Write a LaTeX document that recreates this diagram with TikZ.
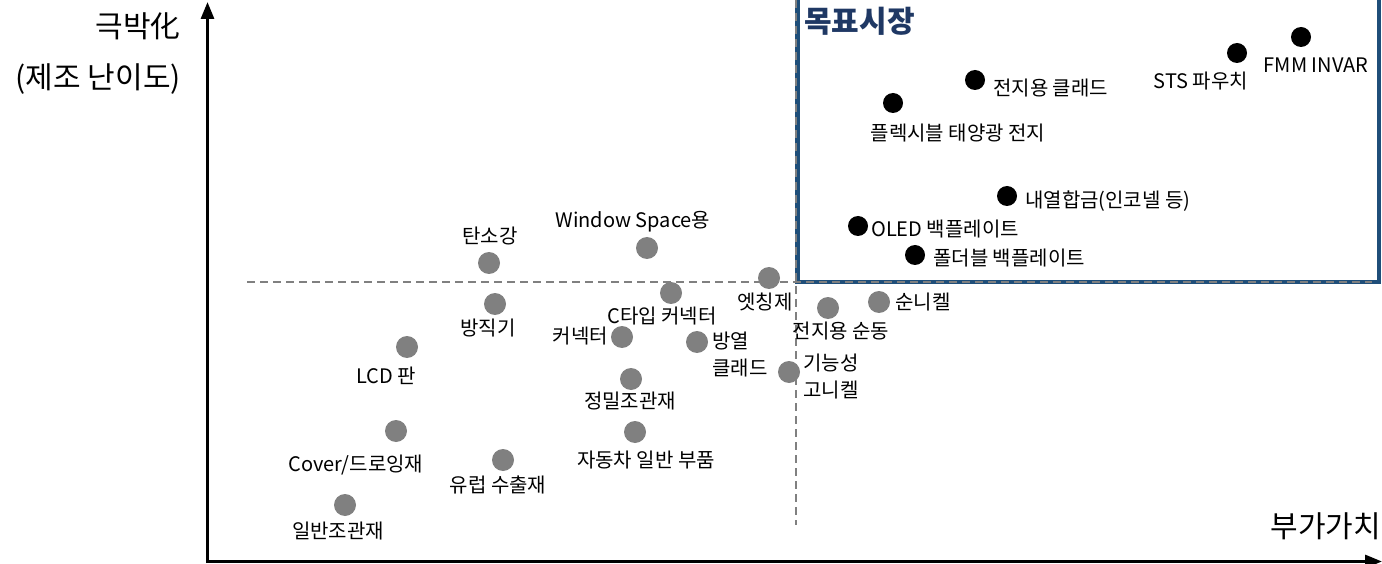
\documentclass[tikz,border=0pt]{standalone}
\usepackage{fontspec}
\setmainfont{Noto Sans CJK KR}
\usetikzlibrary{arrows.meta}
\definecolor{dotgrey}{RGB}{128,128,128}
\definecolor{boxblue}{RGB}{31,78,121}
\definecolor{navy}{RGB}{31,56,100}

\begin{document}
\begin{tikzpicture}[x=1pt, y=-1pt,
            every node/.style={font=\fontsize{20}{27}\selectfont, inner sep=0pt}, % label text
            gdot/.style={circle, fill=dotgrey, minimum size=22pt}, % grey market
            bdot/.style={circle, fill=black, minimum size=20pt}, % target market
            axis/.style={line width=3pt, -{Triangle[length=17pt, width=13pt]}},
            guide/.style={dotgrey, line width=2pt, dash pattern=on 8pt off 5pt},
            axislbl/.style={font=\fontsize{30}{34}\selectfont, anchor=east}
            ]
        \useasboundingbox (0,0) rectangle (1382,564);

        % axes
        \coordinate (o) at (207.5,561.5);
        \coordinate (ytop) at (207.5,2);
        \coordinate (xend) at (1382,561.5);
        \draw[axis] ([yshift=-1.5pt]o) -- (ytop);
        \draw[axis] ([xshift=-1.5pt]o) -- (xend);
        \node[axislbl] (ylbl) at (181,26) {극박化};
        \node[axislbl] (ylbl2) at (181,79) {(제조 난이도)};
        \node[axislbl] (xlbl) at (1381,526) {부가가치};

        % target market box
        \draw[boxblue, line width=4.5pt] (797.5,-10) rectangle (1379,282);
        \node[font=\fontsize{30}{34}\selectfont\bfseries, text=navy, anchor=west] (goal) at (804,21) {목표시장};

        % quadrant guides
        \coordinate (hl) at (247,282);
        \coordinate (hr) at (1372,282);
        \coordinate (vt) at (796,0);
        \coordinate (vb) at (796,525);
        \draw[guide] (hl) -- (hr);
        \draw[guide] (vt) -- (vb);

        % target markets
        \node[bdot] (fmm) at (1301,37) {};
        \node (fmm-l) at (1316,65) {FMM INVAR};
        \node[bdot] (sts) at (1237,53) {};
        \node (sts-l) at (1201,81) {STS 파우치};
        \node[bdot] (clad) at (975,80) {};
        \node[anchor=west] (clad-l) at (993,88) {전지용 클래드};
        \node[bdot] (flex) at (893,103) {};
        \node (flex-l) at (958,133) {플렉시블 태양광 전지};
        \node[bdot] (heat) at (1007,196) {};
        \node[anchor=west] (heat-l) at (1025,201) {내열합금(인코넬 등)};
        \node[bdot] (oled) at (858,226) {};
        \node[anchor=west] (oled-l) at (871,229) {OLED 백플레이트};
        \node[bdot] (fold) at (915,255) {};
        \node[anchor=west] (fold-l) at (933,258) {폴더블 백플레이트};

        % current markets
        \node[gdot] (carbon) at (489,263) {};
        \node (carbon-l) at (490,236) {탄소강};
        \node[gdot] (window) at (647,248) {};
        \node (window-l) at (633,222) {Window Space용};
        \node[gdot] (loom) at (495,304) {};
        \node (loom-l) at (488,328) {방직기};
        \node[gdot] (ctype) at (671,293) {};
        \node (ctype-l) at (662,316) {C타입 커넥터};
        \node[gdot] (etch) at (769,278) {};
        \node (etch-l) at (765,302) {엣칭제};
        \node[gdot] (conn) at (622,337) {};
        \node[anchor=east] (conn-l) at (608,336) {커넥터};
        \node[gdot] (sink) at (697,342) {};
        \node[anchor=west, align=left] (sink-l) at (712,355) {방열\\클래드};
        \node[gdot] (cu) at (828,308) {};
        \node (cu-l) at (841,331) {전지용 순동};
        \node[gdot] (ni) at (879,302) {};
        \node[anchor=west] (ni-l) at (895,302) {순니켈};
        \node[gdot] (hini) at (789,372) {};
        \node[anchor=west, align=left] (hini-l) at (803,377) {기능성\\고니켈};
        \node[gdot] (lcd) at (407,347) {};
        \node (lcd-l) at (386,376) {LCD 판};
        \node[gdot] (tube) at (631,379) {};
        \node (tube-l) at (630,401) {정밀조관재};
        \node[gdot] (cover) at (396,431) {};
        \node (cover-l) at (356,465) {Cover/드로잉재};
        \node[gdot] (auto) at (635,432) {};
        \node (auto-l) at (646,460) {자동차 일반 부품};
        \node[gdot] (euro) at (503,460) {};
        \node (euro-l) at (498,485) {유럽 수출재};
        \node[gdot] (gentube) at (345,505) {};
        \node (gentube-l) at (338,531) {일반조관재};

    \end{tikzpicture}
\end{document}
